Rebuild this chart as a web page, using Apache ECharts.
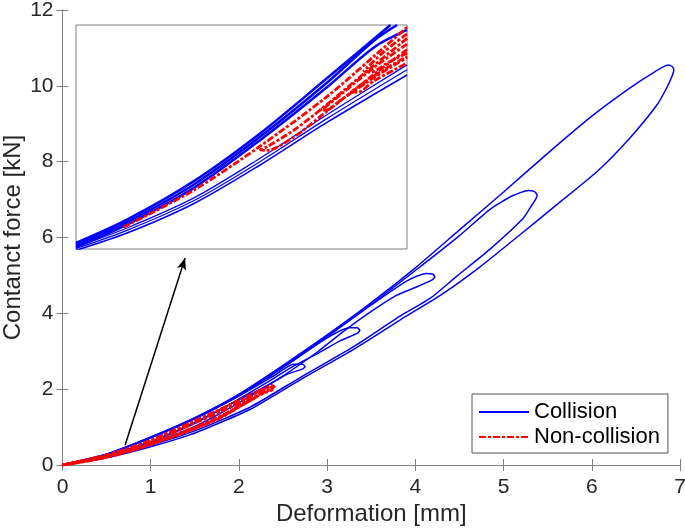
<!DOCTYPE html>
<html>
<head>
<meta charset="utf-8">
<script src="https://cdn.jsdelivr.net/npm/echarts@6/dist/echarts.min.js"></script>
<style>html,body{margin:0;padding:0;background:#fff}#c{width:685px;height:528px}</style>
</head>
<body>
<div id="c"></div>
<script>
// ---- main plot data (deformation mm, force kN) ----
const collision1 = [[0,0],[0.5,0.29],[1,0.74],[1.5,1.25],[2,1.87],[2.5,2.63],[3,3.43],[3.5,4.28],[4,5.2],[4.5,6.2],[5,7.2],[5.5,8.22],[6,9.2],[6.43,9.94],[6.7,10.35],[6.865,10.55],[6.91,10.51],[6.93,10.42],[6.91,10.26],[6.85,9.95],[6.74,9.5],[6.43,8.62],[6.06,7.74],[5.6,6.86],[5.2,6.1],[4.73,5.22],[4.3,4.5],[3.83,3.83],[3.3,3.05],[2.69,2.24],[2.13,1.47],[1.79,1.12],[1.45,0.8],[1,0.48],[0.5,0.19],[0,0]];
const collision2 = [[0,0],[0.5,0.285],[1,0.73],[1.5,1.24],[2,1.85],[2.5,2.6],[3,3.4],[3.5,4.24],[4,5.13],[4.5,6.05],[4.85,6.75],[5.1,7.1],[5.28,7.24],[5.35,7.21],[5.38,7.12],[5.37,7.04],[5.32,6.85],[5.22,6.5],[4.85,5.7],[4.47,4.98],[4.17,4.4],[3.83,3.93],[3.3,3.12],[2.69,2.3],[2.13,1.53],[1.5,0.9],[1,0.52],[0.5,0.2],[0,0]];
const collision3 = [[0,0],[0.5,0.28],[1,0.72],[1.5,1.23],[2,1.84],[2.5,2.58],[3,3.38],[3.5,4.22],[3.9,4.85],[4.12,5.05],[4.2,5.03],[4.22,4.96],[4.19,4.88],[4.0,4.68],[3.79,4.48],[3.5,4.05],[3.2,3.55],[2.9,3.0],[2.5,2.35],[2,1.64],[1.5,1.02],[1,0.56],[0.5,0.22],[0,0]];
const collision4 = [[0,0],[0.5,0.28],[1,0.72],[1.5,1.23],[2,1.83],[2.5,2.57],[3,3.35],[3.25,3.62],[3.34,3.62],[3.37,3.55],[3.34,3.47],[3.15,3.28],[2.9,2.95],[2.6,2.58],[2.3,2.15],[2,1.74],[1.5,1.1],[1,0.6],[0.5,0.24],[0,0]];
const collision5 = [[0,0],[0.5,0.28],[1,0.72],[1.5,1.22],[2,1.82],[2.4,2.36],[2.62,2.66],[2.72,2.66],[2.75,2.59],[2.72,2.53],[2.55,2.4],[2.43,2.24],[2.2,1.95],[2,1.72],[1.5,1.12],[1,0.62],[0.5,0.25],[0,0]];
const nonCollision1 = [[0,0],[0.5,0.26],[1,0.64],[1.45,1.1],[1.8,1.46],[2.1,1.82],[2.3,2.02],[2.37,2.1],[2.4,2.07],[2.36,2.0],[2.2,1.82],[2.0,1.55],[1.79,1.26],[1.45,0.93],[1,0.56],[0.5,0.23],[0,0]];
const nonCollision2 = [[0,0],[0.5,0.255],[1,0.63],[1.45,1.08],[1.8,1.44],[2.1,1.78],[2.22,1.92],[2.28,1.97],[2.29,1.93],[2.2,1.8],[2.0,1.53],[1.79,1.24],[1.45,0.92],[1,0.555],[0.5,0.23],[0,0]];
const nonCollision3 = [[0,0],[0.5,0.25],[1,0.62],[1.45,1.06],[1.8,1.41],[2.05,1.7],[2.15,1.8],[2.17,1.76],[2.1,1.67],[1.9,1.4],[1.6,1.06],[1.2,0.7],[0.8,0.39],[0.4,0.15],[0,0]];
const nonCollision4 = [[0,0],[0.5,0.26],[1,0.65],[1.45,1.12],[1.8,1.48],[2.0,1.7],[2.1,1.78],[2.12,1.73],[2.05,1.64],[1.85,1.36],[1.6,1.09],[1.2,0.73],[0.8,0.4],[0.4,0.16],[0,0]];
const nonCollision5 = [[2.2,1.93],[2.3,2.02],[2.36,2.05],[2.38,2.0],[2.32,1.93],[2.22,1.86]];
const arrowFrom = [0.71, 0.53];
const arrowTo = [1.39, 5.46];
const xTicks = [0,1,2,3,4,5,6,7];
const yTicks = [0,2,4,6,8,10,12];

// ---- inset (zoomed view, normalised units) ----
const insetBlueUpperA = [[0,0.027],[0.154,0.131],[0.355,0.302],[0.557,0.517],[0.758,0.762],[0.95,1.0]];
const insetBlueUpperB = [[0,0.018],[0.154,0.12],[0.355,0.287],[0.557,0.502],[0.758,0.742],[0.9,0.93],[0.97,1.0]];
const insetBlueUpperC = [[0,0.009],[0.154,0.109],[0.355,0.272],[0.557,0.487],[0.758,0.722],[0.9,0.90],[1,0.978]];
const insetBlueLowerA = [[0,0.009],[0.154,0.094],[0.355,0.227],[0.557,0.406],[0.758,0.599],[1,0.822]];
const insetBlueLowerB = [[0,0.002],[0.154,0.083],[0.355,0.215],[0.557,0.391],[0.758,0.582],[1,0.80]];
const insetBlueLowerC = [[0,-0.006],[0.154,0.071],[0.355,0.202],[0.557,0.376],[0.758,0.565],[1,0.777]];
const insetRedMain = [[0.144,0.098],[0.355,0.262],[0.557,0.46],[0.758,0.68],[0.9,0.86],[1,0.99]];
const insetRedLoopA = [[1,0.94],[0.859,0.77],[0.758,0.645],[0.658,0.53],[0.575,0.455],[0.557,0.443],[0.575,0.44],[0.658,0.50],[0.758,0.615],[0.859,0.73],[0.93,0.80],[1,0.86]];
const insetRedLoopB = [[1,0.915],[0.9,0.81],[0.8,0.69],[0.75,0.63],[0.738,0.62],[0.755,0.62],[0.8,0.665],[0.9,0.765],[1,0.855]];
const insetRedLoopC = [[1,0.89],[0.9,0.78],[0.845,0.715],[0.83,0.70],[0.85,0.70],[0.9,0.75],[1,0.83]];
const insetRedLoopD = [[1,0.96],[0.93,0.88],[0.88,0.81],[0.87,0.795],[0.89,0.79],[0.94,0.83],[1,0.875]];

const FONT = 'Liberation Sans, Arial, sans-serif';
const AXC = '#808080';
const TXT = '#262626';
const BLUE = '#0000ff';
const RED = '#ff0000';
const DASHDOT = [7,2,3,2];

function blue(data, extra) {
  return Object.assign({ type:'line', name:'Collision', data, xAxisIndex:0, yAxisIndex:0, showSymbol:false, symbol:'none', smooth:0.2,
    lineStyle:{ color:BLUE, width:1.5 }, itemStyle:{color:BLUE}, z:3, animation:false }, extra||{});
}
function red(data, extra) {
  return Object.assign({ type:'line', name:'Non-collision', data, xAxisIndex:0, yAxisIndex:0, showSymbol:false, symbol:'none', smooth:0.25,
    lineStyle:{ color:RED, width:2.8, type:DASHDOT }, itemStyle:{color:RED}, z:4, animation:false }, extra||{});
}
const inset = { xAxisIndex:2, yAxisIndex:2, smooth:0.3, z:6 };

const chart = echarts.init(document.getElementById('c'), null, {renderer:'canvas'});
chart.setOption({
  backgroundColor:'#fff',
  animation:false,
  textStyle:{ fontFamily:FONT },
  grid:[
    { left:62.5, right:5, top:10, bottom:63, show:false, containLabel:false, outerBoundsMode:'none' },
    { left:76, top:25, width:331, height:224, show:true, backgroundColor:'#fff', borderColor:AXC, borderWidth:1, z:5, containLabel:false, outerBoundsMode:'none' }
  ],
  xAxis:[
    { gridIndex:0, type:'value', min:xTicks[0], max:xTicks[xTicks.length-1], interval:1, position:'bottom',
      name:'Deformation [mm]', nameLocation:'middle', nameGap:37, nameMoveOverlap:false, nameTextStyle:{fontSize:24, color:TXT, fontFamily:FONT},
      axisLine:{show:true, lineStyle:{color:AXC, width:1}}, axisTick:{show:true, inside:true, length:6, lineStyle:{color:AXC}},
      axisLabel:{fontSize:21, color:TXT, margin:12, fontFamily:FONT}, splitLine:{show:false} },
    { gridIndex:0, type:'value', min:xTicks[0], max:xTicks[xTicks.length-1], interval:1, position:'top',
      axisLine:{show:true, lineStyle:{color:AXC, width:1}}, axisTick:{show:true, inside:true, length:6, lineStyle:{color:AXC}},
      axisLabel:{show:false}, splitLine:{show:false} },
    { gridIndex:1, type:'value', min:0, max:1, show:false }
  ],
  yAxis:[
    { gridIndex:0, type:'value', min:yTicks[0], max:yTicks[yTicks.length-1], interval:2, position:'left',
      name:'Contanct force [kN]', nameLocation:'middle', nameGap:37, nameMoveOverlap:false, nameTextStyle:{fontSize:24, color:TXT, fontFamily:FONT},
      axisLine:{show:true, lineStyle:{color:AXC, width:1}}, axisTick:{show:true, inside:true, length:6, lineStyle:{color:AXC}},
      axisLabel:{fontSize:21, color:TXT, margin:9, fontFamily:FONT}, splitLine:{show:false} },
    { gridIndex:0, type:'value', min:yTicks[0], max:yTicks[yTicks.length-1], interval:2, position:'right',
      axisLine:{show:true, lineStyle:{color:AXC, width:1}}, axisTick:{show:true, inside:true, length:6, lineStyle:{color:AXC}},
      axisLabel:{show:false}, splitLine:{show:false} },
    { gridIndex:1, type:'value', min:0, max:1, show:false }
  ],
  legend:{
    left:472, top:394, orient:'vertical', itemWidth:50, itemHeight:14, itemGap:3,
    padding:[7,8,5,6], borderColor:'#555', borderWidth:1, backgroundColor:'#fff',
    textStyle:{fontSize:22, color:'#000', fontFamily:FONT},
    itemStyle:{opacity:0},
    data:[{name:'Collision'},{name:'Non-collision'}], selectedMode:false
  },
  series:[
    blue(collision1, { markLine:{ silent:true, symbol:['none','arrow'], symbolSize:[7,12], label:{show:false},
      lineStyle:{color:'#000', width:1.5, type:'solid'}, data:[[{coord:arrowFrom},{coord:arrowTo}]] } }),
    blue(collision2), blue(collision3), blue(collision4), blue(collision5),
    red(nonCollision1), red(nonCollision2), red(nonCollision3), red(nonCollision4), red(nonCollision5, {smooth:0.4}),
    blue(insetBlueUpperA, Object.assign({}, inset, {lineStyle:{color:BLUE, width:2.5}})),
    blue(insetBlueUpperB, Object.assign({}, inset, {lineStyle:{color:BLUE, width:2.5}})),
    blue(insetBlueUpperC, Object.assign({}, inset, {lineStyle:{color:BLUE, width:2.5}})),
    blue(insetBlueLowerA, Object.assign({}, inset, {lineStyle:{color:BLUE, width:1.2}})),
    blue(insetBlueLowerB, Object.assign({}, inset, {lineStyle:{color:BLUE, width:1.2}})),
    blue(insetBlueLowerC, Object.assign({}, inset, {lineStyle:{color:BLUE, width:1.6}})),
    red(insetRedMain, Object.assign({}, inset, {z:7})),
    red(insetRedLoopA, Object.assign({}, inset, {z:7})),
    red(insetRedLoopB, Object.assign({}, inset, {z:7})),
    red(insetRedLoopC, Object.assign({}, inset, {z:7})),
    red(insetRedLoopD, Object.assign({}, inset, {z:7}))
  ]
});
</script>
</body>
</html>
